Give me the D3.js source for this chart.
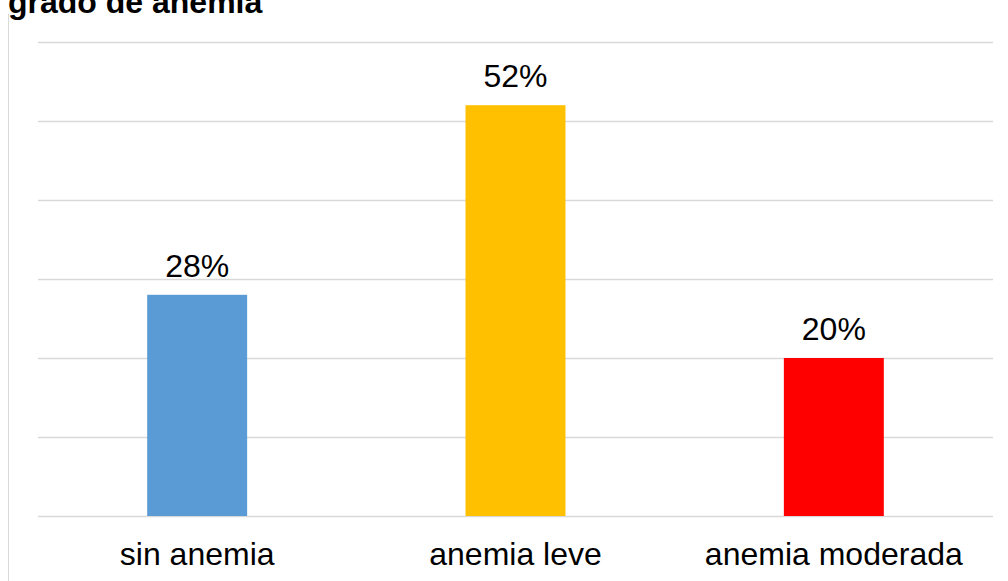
<!DOCTYPE html>
<html>
<head>
<meta charset="utf-8">
<script src="https://cdn.jsdelivr.net/npm/d3@7"></script>
<style>
  html, body { margin: 0; padding: 0; background: #fff; }
  svg { display: block; font-family: "Liberation Sans", Arial, sans-serif; }
</style>
</head>
<body>
<svg id="chart" width="1008" height="581"></svg>
<script>
const categories = ["sin anemia", "anemia leve", "anemia moderada"];
const values = [28, 52, 20];
const barColors = ["#5B9BD5", "#FFC000", "#FF0000"];
const yTicks = [0, 10, 20, 30, 40, 50, 60];
const title = "grado de anemia";

const svg = d3.select("#chart");
const W = 1008, H = 581;
const margin = { left: 38, right: 15, top: 42, bottom: 65 };

// outer frame line on the left
svg.append("line")
  .attr("x1", 8.5).attr("x2", 8.5)
  .attr("y1", 14).attr("y2", H)
  .attr("stroke", "#D9D9D9").attr("stroke-width", 1);

const x = d3.scaleBand()
  .domain(categories)
  .range([margin.left, W - margin.right])
  .paddingInner(0.686)
  .paddingOuter(0.343);

const y = d3.scaleLinear()
  .domain([0, 60])
  .range([H - margin.bottom, margin.top]);

// horizontal gridlines
svg.append("g")
  .selectAll("line")
  .data(yTicks)
  .join("line")
  .attr("x1", margin.left).attr("x2", W - margin.right)
  .attr("y1", d => Math.round(y(d)) + 0.5)
  .attr("y2", d => Math.round(y(d)) + 0.5)
  .attr("stroke", "#D9D9D9").attr("stroke-width", 1.5);

// bars
svg.append("g")
  .selectAll("rect")
  .data(values)
  .join("rect")
  .attr("x", (d, i) => x(categories[i]))
  .attr("width", x.bandwidth())
  .attr("y", d => y(d))
  .attr("height", d => y(0) - y(d))
  .attr("fill", (d, i) => barColors[i]);

// value labels
svg.append("g")
  .selectAll("text")
  .data(values)
  .join("text")
  .attr("x", (d, i) => x(categories[i]) + x.bandwidth() / 2)
  .attr("y", d => y(d) - 18)
  .attr("text-anchor", "middle")
  .attr("font-size", 32)
  .attr("fill", "#000")
  .text(d => d + "%");

// category axis labels
const xAxis = d3.axisBottom(x).tickSize(0).tickPadding(0);
const gx = svg.append("g")
  .attr("transform", `translate(0,${H - margin.bottom})`)
  .call(xAxis);
gx.select(".domain").remove();
gx.selectAll("text")
  .attr("font-size", 32)
  .attr("fill", "#000")
  .attr("dy", null)
  .attr("y", 49);

// chart title (partly above the visible area)
svg.append("text")
  .attr("x", 8)
  .attr("y", 13)
  .attr("font-size", 32)
  .attr("font-weight", "bold")
  .attr("fill", "#000")
  .text(title);
</script>
</body>
</html>
